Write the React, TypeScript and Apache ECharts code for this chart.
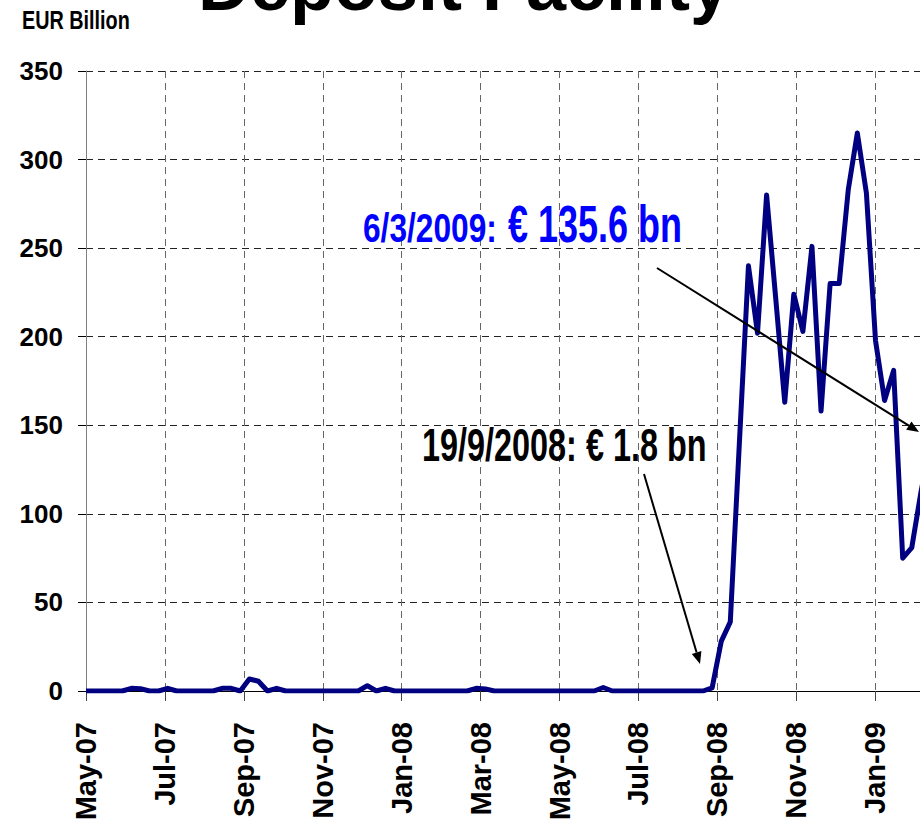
import React, { useEffect, useRef } from "react";
import * as echarts from "echarts";

// Tick labels of the date axis, one every two months starting May 2007
const tickLabels = [
  "May-07", "Jul-07", "Sep-07", "Nov-07", "Jan-08", "Mar-08",
  "May-08", "Jul-08", "Sep-08", "Nov-08", "Jan-09",
];

// Weekly recourse to the deposit facility (EUR billion), first week = May-07
const weeklyValues = [
  0, 0, 0, 0, 0, 1.5, 1.3, 0, 0, 1.5,
  0, 0, 0, 0, 0, 1.5, 1.5, 0, 6.8, 5.5,
  0, 1.5, 0, 0, 0, 0, 0, 0, 0, 0,
  0, 3, 0, 1.5, 0, 0, 0, 0, 0, 0,
  0, 0, 0, 1.5, 1.2, 0, 0, 0, 0, 0,
  0, 0, 0, 0, 0, 0, 0, 2, 0, 0,
  0, 0, 0, 0, 0, 0, 0, 0, 0, 1.8,
  28, 39, 140, 240, 202, 280, 222, 163, 224, 203,
  251, 158, 230, 230, 283, 315, 281, 198, 164, 181,
  75, 81, 112, 138, 145, 135.6,
];

const DAYS_PER_MONTH = 365.25 / 12;

const SANS = "'Liberation Sans', Arial, sans-serif";

function arrow(x1: number, y1: number, x2: number, y2: number) {
  const dx = x2 - x1;
  const dy = y2 - y1;
  const len = Math.sqrt(dx * dx + dy * dy);
  const ux = dx / len;
  const uy = dy / len;
  const headL = 12;
  const headW = 5;
  const bx = x2 - ux * headL;
  const by = y2 - uy * headL;
  return [
    {
      type: "line",
      shape: { x1, y1, x2: bx, y2: by },
      style: { stroke: "#000", lineWidth: 2 },
      z: 10,
    },
    {
      type: "polygon",
      shape: {
        points: [
          [x2, y2],
          [bx - uy * headW, by + ux * headW],
          [bx + uy * headW, by - ux * headW],
        ],
      },
      style: { fill: "#000" },
      z: 10,
    },
  ];
}

function label(
  text: string,
  x: number,
  y: number,
  fontSize: number,
  scaleY: number,
  fill: string
) {
  return {
    type: "text",
    x,
    y,
    scaleY,
    z: 10,
    style: {
      text,
      fontSize,
      fontWeight: "bold",
      fontFamily: SANS,
      fill,
      align: "left",
      verticalAlign: "middle",
    },
  };
}

export default function App() {
  const ref = useRef<HTMLDivElement>(null);

  useEffect(() => {
    document.body.style.margin = "0";
    document.body.style.overflow = "hidden";
    if (!ref.current) return;
    const chart = echarts.init(ref.current, undefined, { renderer: "svg" });

    const data = weeklyValues.map((v, k) => [(k * 7) / DAYS_PER_MONTH, v]);

    const option: any = {
      animation: false,
      backgroundColor: "#fff",
      textStyle: { fontFamily: SANS },
      grid: {
        left: 86,
        top: 71,
        height: 620,
        width: 947,
        containLabel: false,
        outerBoundsMode: "none",
      },
      xAxis: {
        type: "value",
        min: 0,
        max: 24,
        interval: 2,
        axisLine: { show: true, onZero: false, lineStyle: { color: "#000", width: 1 } },
        axisTick: { show: true, length: 10, lineStyle: { color: "#444", width: 1 } },
        axisLabel: {
          rotate: 90,
          margin: 31,
          fontSize: 29,
          fontWeight: "bold",
          color: "#000",
          fontFamily: SANS,
          showMaxLabel: false,
          formatter: (v: number) => tickLabels[Math.round(v / 2)] ?? "",
        },
        splitLine: { show: true, lineStyle: { color: "#666", width: 1, type: [7, 5] } },
      },
      yAxis: {
        type: "value",
        min: 0,
        max: 350,
        interval: 50,
        axisLine: { show: true, lineStyle: { color: "#808080", width: 1 } },
        axisTick: { show: true, length: 8, lineStyle: { color: "#000", width: 1 } },
        axisLabel: {
          margin: 23,
          fontSize: 26,
          fontWeight: "bold",
          color: "#000",
          fontFamily: SANS,
        },
        splitLine: { show: true, lineStyle: { color: "#222", width: 1, type: [7, 5] } },
      },
      series: [
        {
          type: "line",
          data,
          showSymbol: false,
          symbol: "none",
          lineStyle: { color: "#000080", width: 5, join: "round" },
          z: 3,
        },
      ],
      graphic: [
        {
          type: "text",
          x: 464,
          y: -15,
          z: 10,
          style: {
            text: "Deposit Facility",
            fontSize: 72,
            fontWeight: "bold",
            fontFamily: SANS,
            fill: "#000",
            align: "center",
            verticalAlign: "middle",
          },
        },
        label("EUR Billion", 22, 21, 19.8, 1.27, "#000"),
        label("6/3/2009:", 363, 228.5, 31.7, 1.28, "#0000FF"),
        label("€ 135.6 bn", 508, 224, 36, 1.46, "#0000FF"),
        label("19/9/2008: € 1.8 bn", 422, 445, 32.4, 1.42, "#000"),
        ...arrow(657, 268, 919, 432),
        ...arrow(644, 474, 700, 664),
      ],
    };

    chart.setOption(option);
    return () => {
      chart.dispose();
    };
  }, []);

  return (
    <div style={{ width: 920, height: 835, overflow: "hidden", position: "relative" }}>
      <div ref={ref} style={{ width: 920, height: 835 }} />
    </div>
  );
}
